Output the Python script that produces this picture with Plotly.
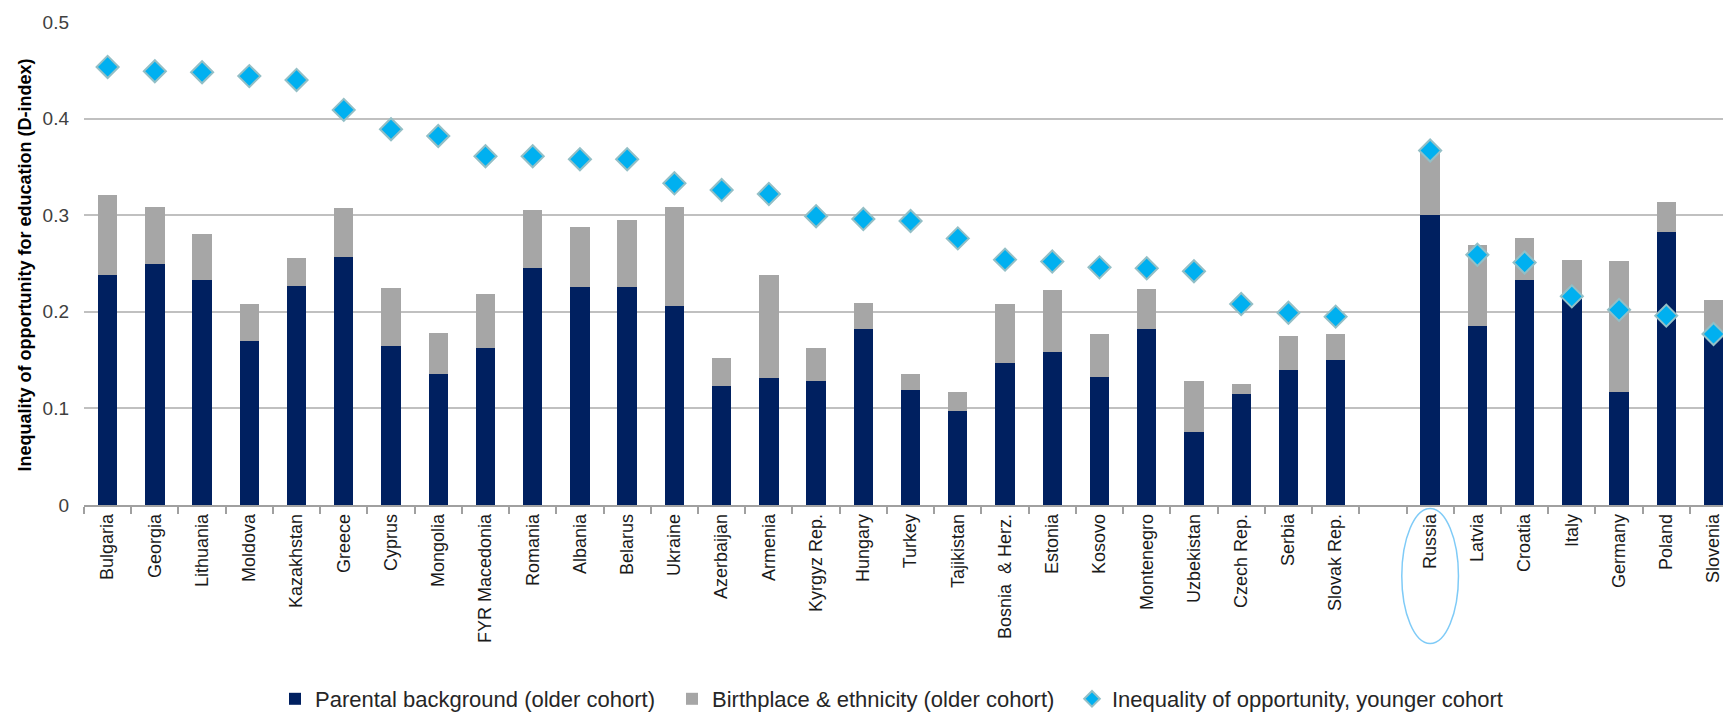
import plotly.graph_objects as go

countries = ["Bulgaria", "Georgia", "Lithuania", "Moldova", "Kazakhstan", "Greece", "Cyprus",
             "Mongolia", "FYR Macedonia", "Romania", "Albania", "Belarus", "Ukraine", "Azerbaijan",
             "Armenia", "Kyrgyz Rep.", "Hungary", "Turkey", "Tajikistan", "Bosnia  & Herz.",
             "Estonia", "Kosovo", "Montenegro", "Uzbekistan", "Czech Rep.", "Serbia", "Slovak Rep.",
             " ", "Russia", "Latvia", "Croatia", "Italy", "Germany", "Poland", "Slovenia"]

parental = [0.238, 0.249, 0.233, 0.170, 0.227, 0.257, 0.165, 0.136, 0.163, 0.245, 0.226, 0.226,
            0.206, 0.123, 0.131, 0.128, 0.182, 0.119, 0.097, 0.147, 0.158, 0.132, 0.182, 0.076,
            0.115, 0.140, 0.150, None, 0.300, 0.185, 0.233, 0.213, 0.117, 0.283, 0.176]

birthplace = [0.083, 0.060, 0.048, 0.038, 0.029, 0.050, 0.060, 0.042, 0.055, 0.060, 0.062, 0.069,
              0.103, 0.029, 0.107, 0.035, 0.027, 0.017, 0.020, 0.061, 0.065, 0.045, 0.042, 0.052,
              0.010, 0.035, 0.027, None, 0.067, 0.084, 0.043, 0.041, 0.136, 0.031, 0.036]

younger = [0.4535, 0.449, 0.448, 0.444, 0.440, 0.409, 0.389, 0.382, 0.361, 0.361, 0.358, 0.358,
           0.333, 0.326, 0.322, 0.299, 0.296, 0.294, 0.276, 0.254, 0.252, 0.246, 0.245, 0.242,
           0.208, 0.199, 0.195, None, 0.367, 0.259, 0.251, 0.216, 0.202, 0.196, 0.177]

y_ticks = [0, 0.1, 0.2, 0.3, 0.4, 0.5]
highlight = "Russia"

# page body has an 8px default margin; size the figure to fit the window
W, H = 1723, 710
ML, MR, MT, MB = 76, 0, 14, 213
x_range = [-0.5, 34.37]
plot_w = W - ML - MR
plot_h = H - MT - MB

fig = go.Figure()
fig.add_trace(go.Bar(x=countries, y=parental, name="Parental background (older cohort)",
                     marker=dict(color="#002060", line=dict(width=0)), legend="legend"))
fig.add_trace(go.Bar(x=countries, y=birthplace, name="Birthplace & ethnicity (older cohort)",
                     marker=dict(color="#A6A6A6", line=dict(width=0)), legend="legend2"))
fig.add_trace(go.Scatter(x=countries, y=younger, mode="markers",
                         name="Inequality of opportunity, younger cohort", legend="legend3",
                         marker=dict(symbol="diamond", size=17, color="#00B0F0",
                                     line=dict(color="#93BFC6", width=2))))

# ellipse around highlighted category label
idx = countries.index(highlight)
span = x_range[1] - x_range[0]
x0 = (idx - 0.6 - x_range[0]) / span
x1 = (idx + 0.6 - x_range[0]) / span
fig.add_shape(type="circle", xref="paper", yref="paper",
              x0=x0, x1=x1, y0=-138.5 / plot_h, y1=-3.5 / plot_h,
              line=dict(color="#7FCBF7", width=1.5), fillcolor="rgba(0,0,0,0)")

fig.add_annotation(text="<b>Inequality of opportunity for education (D-index)</b>",
                   xref="paper", yref="paper", x=0, y=0.496, xshift=-59,
                   textangle=-90, showarrow=False, xanchor="center", yanchor="middle",
                   font=dict(family="Liberation Sans, Arial, sans-serif", size=18, color="#000000"))


def legend_at(left_px):
    return dict(orientation="h", x=(left_px - ML) / plot_w, xanchor="left",
                y=-194 / plot_h, yanchor="middle",
                font=dict(size=22, color="#262626"), itemsizing="constant",
                bgcolor="rgba(0,0,0,0)", borderwidth=0)


fig.update_layout(
    template="none",
    width=W, height=H,
    margin=dict(l=ML, r=MR, t=MT, b=MB, autoexpand=False),
    barmode="stack", bargap=0.59,
    plot_bgcolor="white", paper_bgcolor="white",
    font=dict(family="Liberation Sans, Arial, sans-serif", color="#262626"),
    showlegend=True,
    legend=legend_at(267),
    legend2=legend_at(664),
    legend3=legend_at(1064),
    xaxis=dict(type="category", range=x_range, tickangle=-90, tickson="boundaries",
               ticks="outside", ticklen=7, tickcolor="#A0A0A0", tickwidth=1.5,
               showline=True, linecolor="#A0A0A0", linewidth=1.5, showgrid=False,
               automargin=False, tickfont=dict(size=18, color="#1A1A1A")),
    yaxis=dict(range=[0, 0.5], tickvals=y_ticks, showgrid=True, gridcolor="#C0C0C0",
               gridwidth=1.5, zeroline=False, showline=False, ticks="", automargin=False,
               ticklabelstandoff=14, tickfont=dict(size=19, color="#404040")),
)

fig.write_html("out.html")
